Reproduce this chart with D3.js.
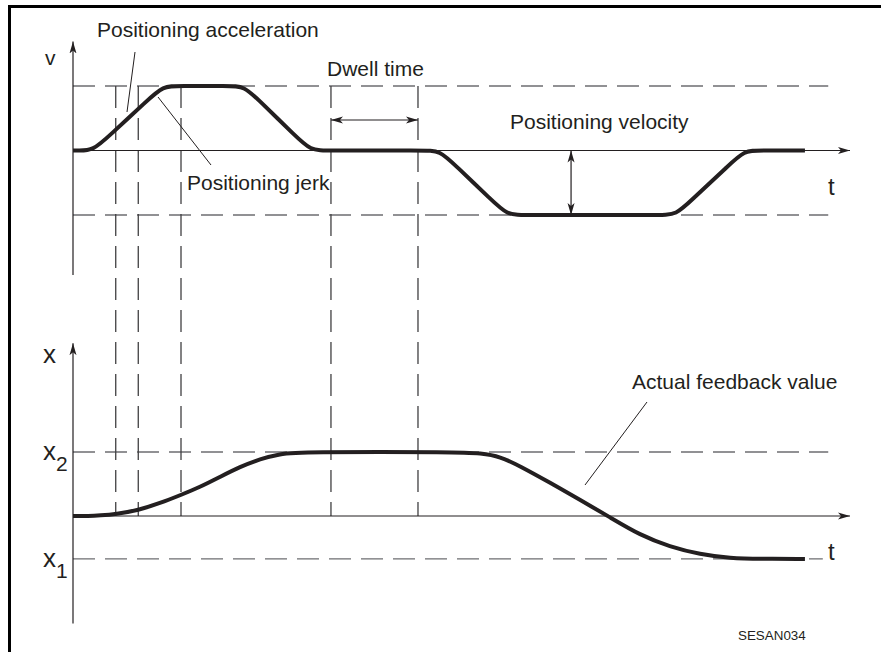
<!DOCTYPE html>
<html>
<head>
<meta charset="utf-8">
<script src="https://cdn.jsdelivr.net/npm/d3@7"></script>
<style>
  body { margin: 0; background: #fff; }
  svg { display: block; }
  text { font-family: "Liberation Sans", Arial, sans-serif; fill: #231f20; }
</style>
</head>
<body>
<div id="chart"></div>
<script>
// time in ms, velocity as fraction of positioning velocity, position as fraction of x2
const velocityTrace = [
  [0, 0], [6, 0], [26, 0], [46, 0.22], [96, 0.78], [116, 1], [136, 1],
  [200, 1], [220, 1], [240, 0.77], [286, 0.23], [306, 0], [326, 0],
  [452, 0], [472, 0], [492, -0.23], [539, -0.77], [559, -1], [579, -1],
  [756, -1], [776, -1], [796, -0.77], [844, -0.23], [864, 0], [884, 0], [942, 0]
]
const positionTrace = [
  [0, 0], [20, 0], [35, 0.01], [55, 0.03], [84, 0.09], [112, 0.2], [139, 0.33],
  [163, 0.45], [189, 0.61], [215, 0.77], [241, 0.89], [266, 0.97], [292, 1],
  [498, 1], [524, 0.98], [550, 0.93], [575, 0.78], [614, 0.52], [653, 0.25],
  [691, -0.02], [730, -0.3], [768, -0.48], [807, -0.6], [846, -0.66], [884, -0.67], [942, -0.67]
]
const markerTimes = [55, 84, 139, 332, 444]
const velocityLevels = [1, -1]
const positionLevels = [1, -0.67]
const positionLevelNames = ["2", "1"]
const velocityAxisExtent = [-1.93, 1.69]
const positionAxisExtent = [-1.68, 2.7]
const timeAxisEnd = 1000
const levelLineEnd = [972, 965]
const velocityArrowTime = 641

function drawChart() {

  // Set dimensions
    let dimensions = {
        width: 881,
        height: 652,
        margin: { left: 73, right: 31 },
    }

    const timeScale = d3.scaleLinear()
        .domain([0, timeAxisEnd])
        .range([dimensions.margin.left, dimensions.width - dimensions.margin.right])
    const vScale = d3.scaleLinear()
        .domain([-1, 1])
        .range([215, 86])
    const xScale = d3.scaleLinear()
        .domain([0, 1])
        .range([516, 452])

  // Create canvas
    const svg = d3.select("#chart")
        .append("svg")
        .attr("width", dimensions.width)
        .attr("height", dimensions.height)

    const defs = svg.append("defs")
    defs.append("marker")
        .attr("id", "arrow")
        .attr("viewBox", "0 0 12 8")
        .attr("refX", 12)
        .attr("refY", 4)
        .attr("markerWidth", 12)
        .attr("markerHeight", 8)
        .attr("markerUnits", "userSpaceOnUse")
        .attr("orient", "auto-start-reverse")
      .append("path")
        .attr("d", "M0,0.5 L12,4 L0,7.5 L3,4 Z")
        .attr("fill", "#231f20")

    // frame (cropped, only top and left edges show)
    svg.append("path")
        .attr("d", `M9.5,652 L9.5,6.5 L881,6.5`)
        .attr("fill", "none")
        .attr("stroke", "#000")
        .attr("stroke-width", 3)

  // Dashed guides
    const t0 = timeScale(0)
    svg.selectAll(".v-level")
        .data(velocityLevels)
        .enter().append("line")
        .attr("class", "v-level")
        .attr("x1", t0)
        .attr("x2", timeScale(levelLineEnd[0]))
        .attr("y1", d => vScale(d))
        .attr("y2", d => vScale(d))

    svg.selectAll(".x-level")
        .data(positionLevels)
        .enter().append("line")
        .attr("class", "x-level")
        .attr("x1", t0)
        .attr("x2", (d, i) => timeScale(levelLineEnd[i]))
        .attr("y1", d => xScale(d))
        .attr("y2", d => xScale(d))

    svg.selectAll(".v-level, .x-level")
        .attr("stroke", "#6d6e71")
        .attr("stroke-width", 1.3)
        .attr("stroke-dasharray", "22 10")

    svg.selectAll(".marker")
        .data(markerTimes)
        .enter().append("line")
        .attr("class", "marker")
        .attr("x1", d => timeScale(d))
        .attr("x2", d => timeScale(d))
        .attr("y1", vScale(1))
        .attr("y2", xScale(0))
        .attr("stroke", "#414042")
        .attr("stroke-width", 1.3)
        .attr("stroke-dasharray", "22 10")

  // Axes
    const axisColor = "#231f20"
    const axes = [
        [t0, vScale(velocityAxisExtent[0]), t0, vScale(velocityAxisExtent[1])],
        [t0, vScale(0), timeScale(timeAxisEnd), vScale(0)],
        [t0, xScale(positionAxisExtent[0]), t0, xScale(positionAxisExtent[1])],
        [t0, xScale(0), timeScale(timeAxisEnd), xScale(0)],
    ]
    svg.selectAll(".axis")
        .data(axes)
        .enter().append("line")
        .attr("class", "axis")
        .attr("x1", d => d[0])
        .attr("y1", d => d[1])
        .attr("x2", d => d[2])
        .attr("y2", d => d[3])
        .attr("stroke", axisColor)
        .attr("stroke-width", 1.2)
        .attr("marker-end", "url(#arrow)")

  // Draw data
    const velocityLine = d3.line()
        .x(d => timeScale(d[0]))
        .y(d => vScale(d[1]))
        .curve(d3.curveBasis)
    const positionLine = d3.line()
        .x(d => timeScale(d[0]))
        .y(d => xScale(d[1]))
        .curve(d3.curveBasis)

    svg.append("path")
        .attr("d", velocityLine(velocityTrace))
        .attr("fill", "none")
        .attr("stroke", "#231f20")
        .attr("stroke-width", 4)
    svg.append("path")
        .attr("d", positionLine(positionTrace))
        .attr("fill", "none")
        .attr("stroke", "#231f20")
        .attr("stroke-width", 4)

  // Dimension arrows
    const dims = [
        [timeScale(markerTimes[3]), 120, timeScale(markerTimes[4]), 120],
        [timeScale(velocityArrowTime), vScale(0), timeScale(velocityArrowTime), vScale(-1)],
    ]
    svg.selectAll(".dim")
        .data(dims)
        .enter().append("line")
        .attr("class", "dim")
        .attr("x1", d => d[0])
        .attr("y1", d => d[1])
        .attr("x2", d => d[2])
        .attr("y2", d => d[3])
        .attr("stroke", axisColor)
        .attr("stroke-width", 1.2)
        .attr("marker-start", "url(#arrow)")
        .attr("marker-end", "url(#arrow)")

  // Leader lines
    const leaders = [
        [135, 52, 127, 112],
        [158, 97, 211, 165],
        [647, 402, 585, 485],
    ]
    svg.selectAll(".leader")
        .data(leaders)
        .enter().append("line")
        .attr("class", "leader")
        .attr("x1", d => d[0])
        .attr("y1", d => d[1])
        .attr("x2", d => d[2])
        .attr("y2", d => d[3])
        .attr("stroke", axisColor)
        .attr("stroke-width", 1)

  // Labels
    const labels = [
        { text: "Positioning acceleration", x: 97, y: 37, size: 21 },
        { text: "Positioning jerk", x: 187, y: 190, size: 21 },
        { text: "Dwell time", x: 327, y: 76, size: 21 },
        { text: "Positioning velocity", x: 510, y: 129, size: 21 },
        { text: "Actual feedback value", x: 632, y: 389, size: 21 },
        { text: "v", x: 45, y: 65, size: 21 },
        { text: "x", x: 43, y: 363, size: 26 },
        { text: "t", x: 828, y: 195, size: 24 },
        { text: "t", x: 828, y: 560, size: 24 },
        { text: "SESAN034", x: 738, y: 640, size: 13.4 },
    ]
    svg.selectAll(".label")
        .data(labels)
        .enter().append("text")
        .attr("class", "label")
        .attr("x", d => d.x)
        .attr("y", d => d.y)
        .style("font-size", d => `${d.size}px`)
        .text(d => d.text)

    const levelLabels = svg.selectAll(".level-label")
        .data(positionLevels)
        .enter().append("text")
        .attr("class", "level-label")
        .attr("x", 43)
        .attr("y", d => xScale(d) + 8)
        .style("font-size", "26px")
    levelLabels.append("tspan").text("x")
    levelLabels.append("tspan")
        .attr("dy", 11)
        .style("font-size", "21px")
        .text((d, i) => positionLevelNames[i])
}
drawChart()
</script>
</body>
</html>
